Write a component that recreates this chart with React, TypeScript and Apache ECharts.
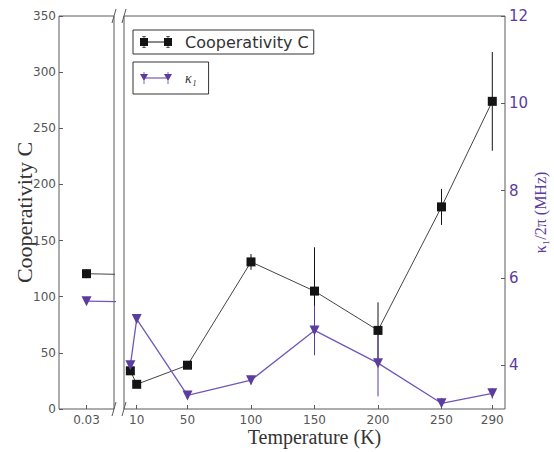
import React, { useEffect, useRef } from "react";
import * as echarts from "echarts";

// ---- data ----
const temps = [0.03, 5, 10, 50, 100, 150, 200, 250, 290];
const coop = [120.5, 34, 22, 39, 131, 105, 70, 180, 274];
const coopErr = [4, 3, 3, 3, 7, 39, 25, 16, 44];
const kappa = [5.47, 4.0, 5.06, 3.31, 3.66, 4.8, 4.05, 3.13, 3.36];
const kappaErr = [0.05, 0.1, 0.1, 0.08, 0.1, 0.57, 0.76, 0.12, 0.12];
const leftXTicks = [0.03];
const rightXTicks = [10, 50, 100, 150, 200, 250, 290];
const kappaTicks = [4, 6, 8, 10, 12];

const C_NAME = "Cooperativity C";
const K_NAME = "κ₁";
const BLACK = "#141414";
const PURPLE = "#5d3c9f";
const PURPLE_LINE = "#7157b8";
const SPINE = "#5a5a5a";
const SANS = "DejaVu Sans";
const SERIF = "Liberation Serif";

const pairs = (xs: number[], ys: number[]) => xs.map((x, i) => [x, ys[i]]);
const errs = (xs: number[], ys: number[], es: number[]) =>
  xs.map((x, i) => [x, ys[i] - es[i], ys[i] + es[i]]);

function errorSeries(data: number[][], xIdx: number, yIdx: number, color: string) {
  return {
    type: "custom",
    xAxisIndex: xIdx,
    yAxisIndex: yIdx,
    data,
    clip: true,
    z: 1,
    silent: true,
    encode: { x: 0, y: [1, 2] },
    renderItem: (_p: any, api: any) => {
      const x = api.value(0);
      const a = api.coord([x, api.value(1)]);
      const b = api.coord([x, api.value(2)]);
      return {
        type: "line",
        shape: { x1: a[0], y1: a[1], x2: b[0], y2: b[1] },
        style: { stroke: color, lineWidth: 1 },
      };
    },
  };
}

export default function App() {
  const ref = useRef<HTMLDivElement>(null);
  useEffect(() => {
    if (!ref.current) return;
    const chart = echarts.init(ref.current, null, { renderer: "svg" });
    const tickInside = { show: true, inside: true, length: 4, lineStyle: { color: SPINE } };
    const option: any = {
      animation: false,
      backgroundColor: "#ffffff",
      grid: [
        { left: 59, top: 16, width: 55, height: 393, show: true, borderColor: SPINE, borderWidth: 1, backgroundColor: "transparent", containLabel: false, outerBoundsMode: "none" },
        { left: 124, top: 16, width: 381, height: 393, show: true, borderColor: SPINE, borderWidth: 1, backgroundColor: "transparent", containLabel: false, outerBoundsMode: "none" },
      ],
      xAxis: [
        {
          type: "value", gridIndex: 0, min: 0, max: 0.06,
          axisLine: { show: false }, splitLine: { show: false },
          axisTick: { ...tickInside, customValues: leftXTicks },
          axisLabel: { customValues: leftXTicks, color: "#555", fontFamily: SANS, fontSize: 12, margin: 5, formatter: (v: number) => String(v) },
        },
        {
          type: "value", gridIndex: 1, min: 0, max: 300,
          axisLine: { show: false }, splitLine: { show: false },
          axisTick: { ...tickInside, customValues: rightXTicks },
          axisLabel: { customValues: rightXTicks, color: "#555", fontFamily: SANS, fontSize: 12, margin: 5 },
          name: "Temperature (K)", nameLocation: "middle", nameGap: 18, nameMoveOverlap: false,
          nameTextStyle: { fontFamily: SERIF, fontSize: 20, color: "#333" },
        },
      ],
      yAxis: [
        {
          type: "value", gridIndex: 0, min: 0, max: 350, interval: 50,
          axisLine: { show: false }, splitLine: { show: false },
          axisTick: tickInside,
          axisLabel: { color: "#555", fontFamily: SANS, fontSize: 12, margin: 3 },
          name: "Cooperativity C", nameLocation: "middle", nameGap: 24, nameRotate: 90, nameMoveOverlap: false,
          nameTextStyle: { fontFamily: SERIF, fontSize: 22, color: "#333" },
        },
        { type: "value", gridIndex: 0, min: 3, max: 12, show: false, splitLine: { show: false } },
        { type: "value", gridIndex: 1, min: 0, max: 350, show: false, splitLine: { show: false } },
        {
          type: "value", gridIndex: 1, min: 3, max: 12, position: "right",
          axisLine: { show: false }, splitLine: { show: false },
          axisTick: { ...tickInside, customValues: kappaTicks },
          axisLabel: { customValues: kappaTicks, color: PURPLE, fontFamily: SANS, fontSize: 15, margin: 4 },
          name: "κ₁/2π (MHz)", nameLocation: "middle", nameGap: 27, nameRotate: 90, nameMoveOverlap: false,
          nameTextStyle: { fontFamily: SERIF, fontSize: 16, color: PURPLE },
        },
      ],
      legend: [
        {
          data: [C_NAME], left: 133, top: 30, orient: "vertical",
          borderColor: "#333", borderWidth: 1, borderRadius: 0, padding: [4, 5, 4, 7],
          itemWidth: 32, itemHeight: 12,
          icon: "path://M3.6,0h0.8v12h-0.8z M0,2h8v8h-8z M8,5.5h16v1h-16z M24,2h8v8h-8z M27.6,0h0.8v12h-0.8z M2,0h4v0.6h-4z M26,0h4v0.6h-4z M2,11.4h4v0.6h-4z M26,11.4h4v0.6h-4z",
          textStyle: { fontFamily: SANS, fontSize: 16, color: "#333", padding: [0, 0, 0, 8] },
          selectedMode: false,
        },
        {
          data: [K_NAME], left: 133, top: 62, orient: "vertical",
          borderColor: "#333", borderWidth: 1, borderRadius: 0, padding: [9, 12, 9, 7],
          itemWidth: 32, itemHeight: 12,
          icon: "path://M3.6,0h0.8v12h-0.8z M0,2h8l-4,7z M4,5.5h24v1h-24z M24,2h8l-4,7z M27.6,0h0.8v12h-0.8z",
          textStyle: { fontFamily: SERIF, fontSize: 14, fontStyle: "italic", color: "#333", padding: [0, 0, 0, 8] },
          selectedMode: false,
        },
      ],
      graphic: [
        { type: "line", shape: { x1: 116, y1: 9, x2: 112, y2: 23 }, style: { stroke: SPINE, lineWidth: 1 } },
        { type: "line", shape: { x1: 126, y1: 9, x2: 122, y2: 23 }, style: { stroke: SPINE, lineWidth: 1 } },
        { type: "line", shape: { x1: 116, y1: 402, x2: 112, y2: 416 }, style: { stroke: SPINE, lineWidth: 1 } },
        { type: "line", shape: { x1: 126, y1: 402, x2: 122, y2: 416 }, style: { stroke: SPINE, lineWidth: 1 } },
      ],
      series: [
        // left panel
        errorSeries(errs(temps.slice(0, 1), coop.slice(0, 1), coopErr.slice(0, 1)), 0, 0, BLACK),
        errorSeries(errs(temps.slice(0, 1), kappa.slice(0, 1), kappaErr.slice(0, 1)), 0, 1, PURPLE),
        {
          name: C_NAME, type: "line", xAxisIndex: 0, yAxisIndex: 0, clip: true,
          data: pairs(temps.slice(0, 2), coop.slice(0, 2)),
          symbol: "rect", symbolSize: 9,
          lineStyle: { color: "#444", width: 1 }, itemStyle: { color: BLACK },
        },
        {
          name: K_NAME, type: "line", xAxisIndex: 0, yAxisIndex: 1, clip: true,
          data: pairs(temps.slice(0, 2), kappa.slice(0, 2)),
          symbol: "triangle", symbolRotate: 180, symbolSize: 10,
          lineStyle: { color: PURPLE_LINE, width: 1.3 }, itemStyle: { color: PURPLE },
        },
        // right panel
        errorSeries(errs(temps.slice(1), coop.slice(1), coopErr.slice(1)), 1, 2, BLACK),
        errorSeries(errs(temps.slice(1), kappa.slice(1), kappaErr.slice(1)), 1, 3, PURPLE),
        {
          name: C_NAME, type: "line", xAxisIndex: 1, yAxisIndex: 2, clip: true,
          data: pairs(temps.slice(1), coop.slice(1)),
          symbol: "rect", symbolSize: 9,
          lineStyle: { color: "#444", width: 1 }, itemStyle: { color: BLACK },
        },
        {
          name: K_NAME, type: "line", xAxisIndex: 1, yAxisIndex: 3, clip: true,
          data: pairs(temps.slice(1), kappa.slice(1)),
          symbol: "triangle", symbolRotate: 180, symbolSize: 10,
          lineStyle: { color: PURPLE_LINE, width: 1.3 }, itemStyle: { color: PURPLE },
        },
      ],
    };
    chart.setOption(option);
    return () => chart.dispose();
  }, []);
  return (
    <div
      ref={ref}
      style={{ position: "fixed", left: 0, top: 0, width: 554, height: 452, background: "#fff" }}
    />
  );
}
